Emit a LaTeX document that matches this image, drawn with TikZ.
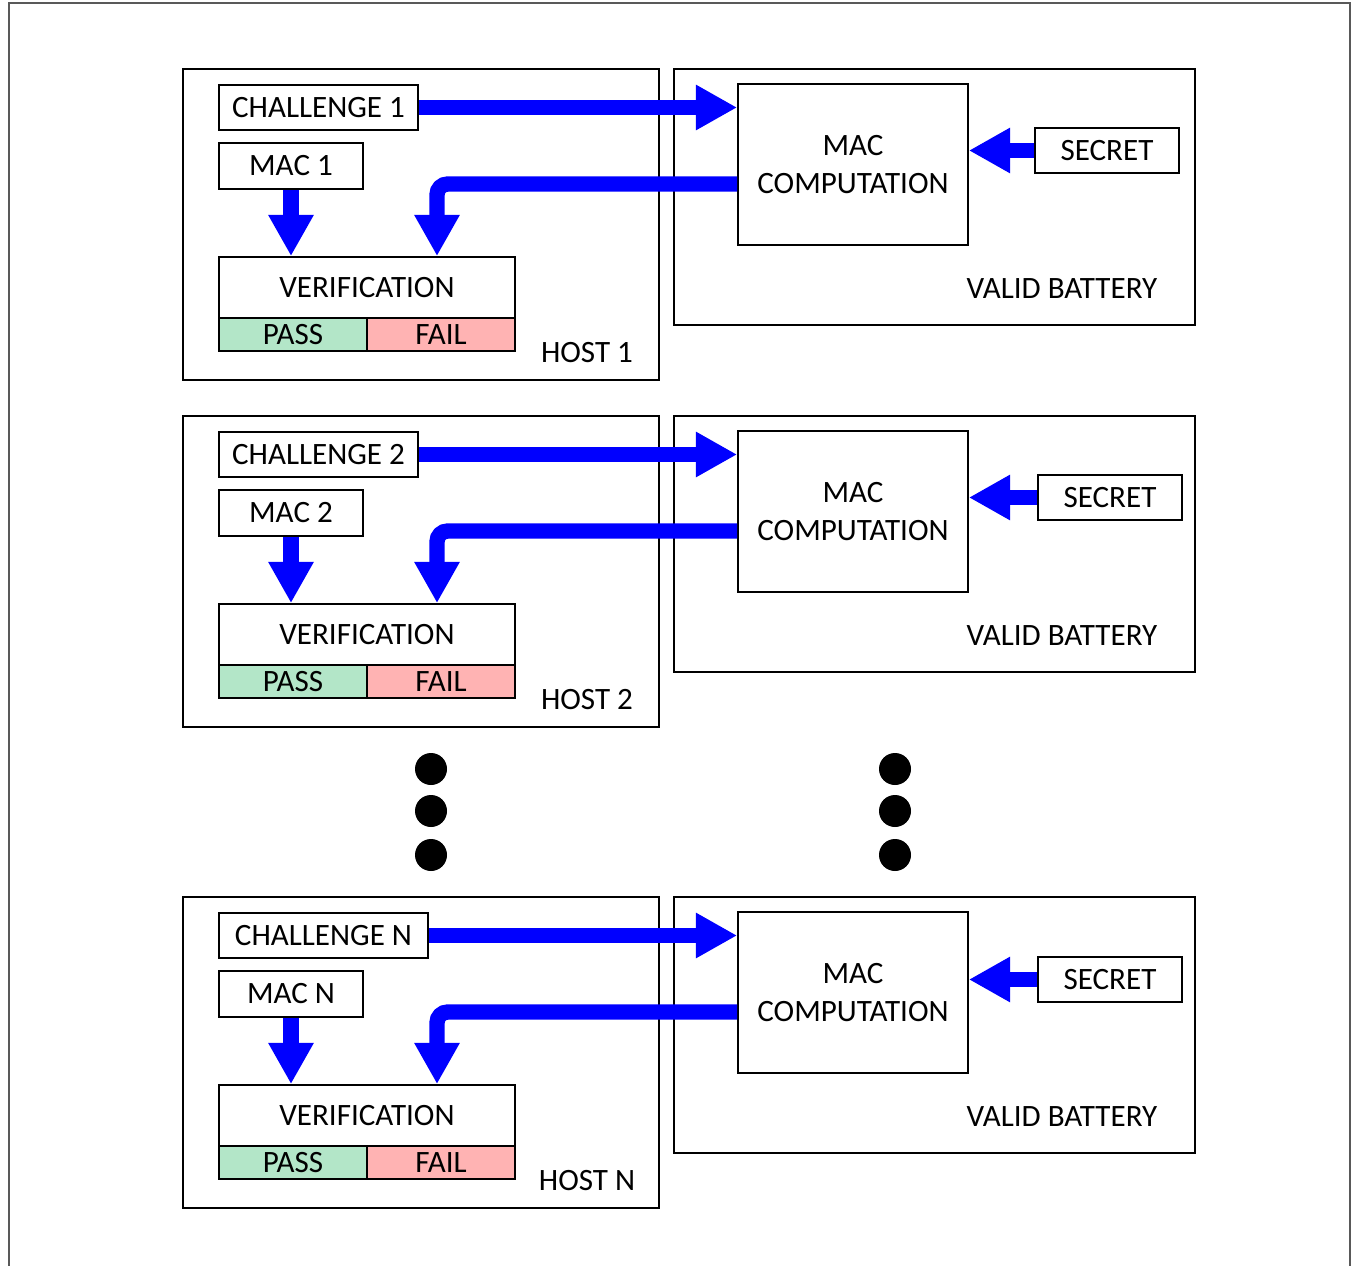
\documentclass[tikz,border=0pt]{standalone}
\usepackage{fontspec}
\setmainfont{Carlito}
\usetikzlibrary{arrows.meta,calc}
\definecolor{passg}{HTML}{B3E6C8}
\definecolor{failr}{HTML}{FFB3B3}
\newcommand\mybox[7][]{%
  \node[boxst,#1,minimum width={((#5)-(#3))*0.75pt},minimum height={((#6)-(#4))*0.75pt}] (#2) at ({((#3)+(#5))/2},{((#4)+(#6))/2}) {#7};}
\begin{document}
\begin{tikzpicture}[x=0.75pt,y=-0.75pt,
  boxst/.style={draw=black,line width=1.3pt,inner sep=0pt,align=center,
    font=\fontsize{23.3}{28.5}\selectfont},
  lbl/.style={inner sep=0pt,font=\fontsize{23.3}{28.5}\selectfont},
  flow/.style={draw=blue,line width=11.5pt,line join=miter,
    -{Triangle[length=31pt,width=32pt]}},
  bigdot/.style={circle,fill=black,inner sep=0pt,minimum size=24pt}]
\useasboundingbox (0,0) rectangle (1354,1266);
\draw[black!65,line width=0.8pt] (9,1270) -- (9,3) -- (1350,3) -- (1350,1270);
\foreach \o/\n/\cw/\sx/\sy in {0/1/418/1035/150.5, 347/2/418/1038/150.5, 828/N/428/1038/151.5}{
  % host
  \mybox{host\n}{183}{69+\o}{659}{380+\o}{}
  \mybox{ch\n}{219}{85+\o}{\cw}{130+\o}{CHALLENGE \n}
  \mybox{mac\n}{219}{143+\o}{363}{189+\o}{MAC \n}
  \mybox{ver\n}{219}{257+\o}{515}{318+\o}{VERIFICATION}
  \mybox[fill=passg]{pass\n}{219}{318+\o}{367}{351+\o}{PASS}
  \mybox[fill=failr]{fail\n}{367}{318+\o}{515}{351+\o}{FAIL}
  \node[lbl] (hl\n) at (587,353+\o) {HOST \n};
  % battery
  \mybox{bat\n}{674}{69+\o}{1195}{325+\o}{}
  \mybox{mc\n}{738}{84+\o}{968}{245+\o}{MAC\\COMPUTATION}
  \mybox{sec\n}{\sx}{\sy-22.5+\o}{\sx+144}{\sy+22.5+\o}{SECRET}
  \node[lbl] (vb\n) at (1062,289+\o) {VALID BATTERY};
  % arrows
  \draw[flow] (ch\n.east) -- (ch\n.east -| mc\n.west);
  \draw[flow] (mac\n.south) -- (mac\n.south |- ver\n.north);
  \draw[flow,rounded corners=8pt] ($(mc\n.west)+(0,19.5)$) -| ($(ver\n.north)+(70,0)$);
  \draw[flow] (sec\n.west) -- (sec\n.west -| mc\n.east);
}
\foreach \i/\y in {1/769,2/811,3/855}{
  \node[bigdot] (dl\i) at (431,\y) {};
  \node[bigdot] (dr\i) at (895,\y) {};
}
\end{tikzpicture}
\end{document}
